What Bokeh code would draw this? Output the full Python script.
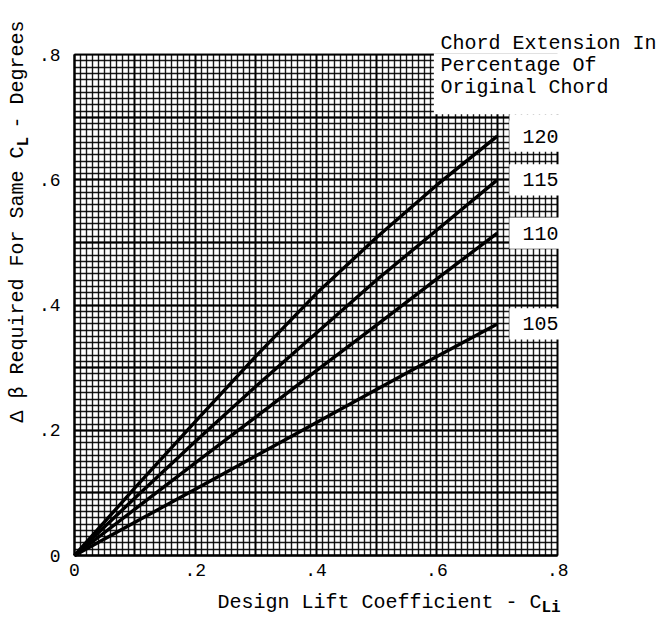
import numpy as np
from bokeh.plotting import figure
from bokeh.models import Range1d, FixedTicker, LinearAxis, Grid, ColumnDataSource
from bokeh.core.properties import value
from bokeh.embed import file_html
from bokeh.resources import INLINE

# ---------------- data ----------------
cl_design = [0.0, 0.1, 0.2, 0.3, 0.4, 0.5, 0.6, 0.7]
ext_120 = [0.0, 0.108, 0.214, 0.318, 0.418, 0.508, 0.592, 0.670]
ext_115 = [0.0, 0.092, 0.182, 0.270, 0.355, 0.440, 0.520, 0.600]
ext_110 = [0.0, 0.074, 0.148, 0.221, 0.295, 0.368, 0.442, 0.515]
ext_105 = [0.0, 0.053, 0.106, 0.159, 0.212, 0.265, 0.318, 0.370]
series_names = ["120", "115", "110", "105"]
series_values = [ext_120, ext_115, ext_110, ext_105]

x_ticks = [0.0, 0.2, 0.4, 0.6, 0.8]
x_tick_labels = ["0", ".2", ".4", ".6", ".8"]
y_ticks = [0.0, 0.2, 0.4, 0.6, 0.8]
y_tick_labels = ["0", ".2", ".4", ".6", ".8"]

legend_title = ["Chord Extension In", "Percentage Of", "Original Chord"]
x_title_main, x_title_sub = "Design Lift Coefficient - C", "Li"
y_title_main, y_title_sub, y_title_end = "\u0394 \u03b2 Required For Same C", "L", " - Degrees"

FONT = "Liberation Mono"
W, H = 662, 618

# ---------------- layout helpers (picture px -> data) ----------------
X0, XS = 74.0, 604.0     # px of x=0, px per unit
Y0, YS = 555.0, 626.0    # px of y=0, px per unit
def X(px):
    return (px - X0) / XS
def Y(py):
    return (Y0 - py) / YS

p = figure(width=W, height=H,
           x_range=Range1d(X(0), X(W)), y_range=Range1d(Y(H), Y(0)),
           x_axis_type=None, y_axis_type=None,
           output_backend="svg", toolbar_location=None, min_border=0)
p.outline_line_color = None
p.background_fill_color = "white"
p.border_fill_color = "white"

# graph-paper grid: heavy every 0.1, fine every 0.01
major = [round(0.1 * i, 2) for i in range(9)]
minor = [round(0.01 * i, 3) for i in range(81)]
for dim in (0, 1):
    g = Grid(dimension=dim, ticker=FixedTicker(ticks=major, minor_ticks=minor),
             grid_line_color="black", grid_line_width=1.8,
             minor_grid_line_color="black", minor_grid_line_width=1.4,
             minor_grid_line_alpha=0.9)
    if "cross_bounds" in Grid.properties():
        g.cross_bounds = (0, 0.8)
    p.add_layout(g)

# white cut-outs: outside the sheet, title area, label boxes
e = 0.0025
big = 5.0
cut_l = [-big, -big, -big, 0.8 + e, 0.595, 0.72]
cut_r = [-e, big, big, big, 0.8 + e, 0.8 + e]
cut_b = [-big, -big, 0.8 + e, -big, 0.705, 0.68]
cut_t = [big, -e, big, big, 0.8 + e, 0.705]
p.quad(left=cut_l, right=cut_r, bottom=cut_b, top=cut_t, fill_color="white", line_color=None)

ends = [v[-1] for v in series_values]
p.quad(left=[0.72] * 4, right=[0.8 + e] * 4,
       bottom=[v - 0.025 for v in ends], top=[v + 0.025 for v in ends],
       fill_color="white", line_color=None)

# curves
for vals in series_values:
    p.line(cl_design, vals, line_color="black", line_width=3.4)

txt = dict(text_font=value(FONT), text_color="black", text_baseline="middle", text_align="left")

# curve labels
src = ColumnDataSource(dict(x=[X(522)] * 4, y=ends, t=series_names))
p.text(x="x", y="y", text="t", source=src, text_font_size="20px", **txt)

# legend title
p.text(x=[X(440)] * 3, y=[Y(43), Y(65), Y(87)], text=legend_title,
       text_font_size="20px", **txt)

# axis titles (with subscripts)
p.text(x=[X(217)], y=[Y(602)], text=[x_title_main], text_font_size="20px", **txt)
p.text(x=[X(541)], y=[Y(607)], text=[x_title_sub], text_font_size="16px",
       text_font_style="bold", **txt)
p.text(x=[X(17)], y=[Y(422)], text=[y_title_main], angle=np.pi / 2,
       text_font_size="20px", **txt)
p.text(x=[X(23)], y=[Y(146)], text=[y_title_sub], angle=np.pi / 2,
       text_font_size="16px", text_font_style="bold", **txt)
p.text(x=[X(17)], y=[Y(128)], text=[y_title_end], angle=np.pi / 2,
       text_font_size="20px", **txt)

# axes fixed at 0
def make_axis(ticks, labels, standoff):
    return LinearAxis(fixed_location=0, ticker=FixedTicker(ticks=ticks),
                      major_label_overrides={t: l for t, l in zip(ticks, labels)},
                      bounds=(0, 0.8), axis_line_width=2, axis_line_color="black",
                      major_tick_in=0, major_tick_out=0, minor_tick_in=0, minor_tick_out=0,
                      major_label_text_font=FONT, major_label_text_font_size="18px",
                      major_label_text_color="black", major_label_standoff=standoff)
p.add_layout(make_axis(x_ticks, x_tick_labels, 8), "below")
p.add_layout(make_axis(y_ticks, y_tick_labels, 14), "left")

open("out.html", "w", encoding="utf-8").write(file_html(p, INLINE))
